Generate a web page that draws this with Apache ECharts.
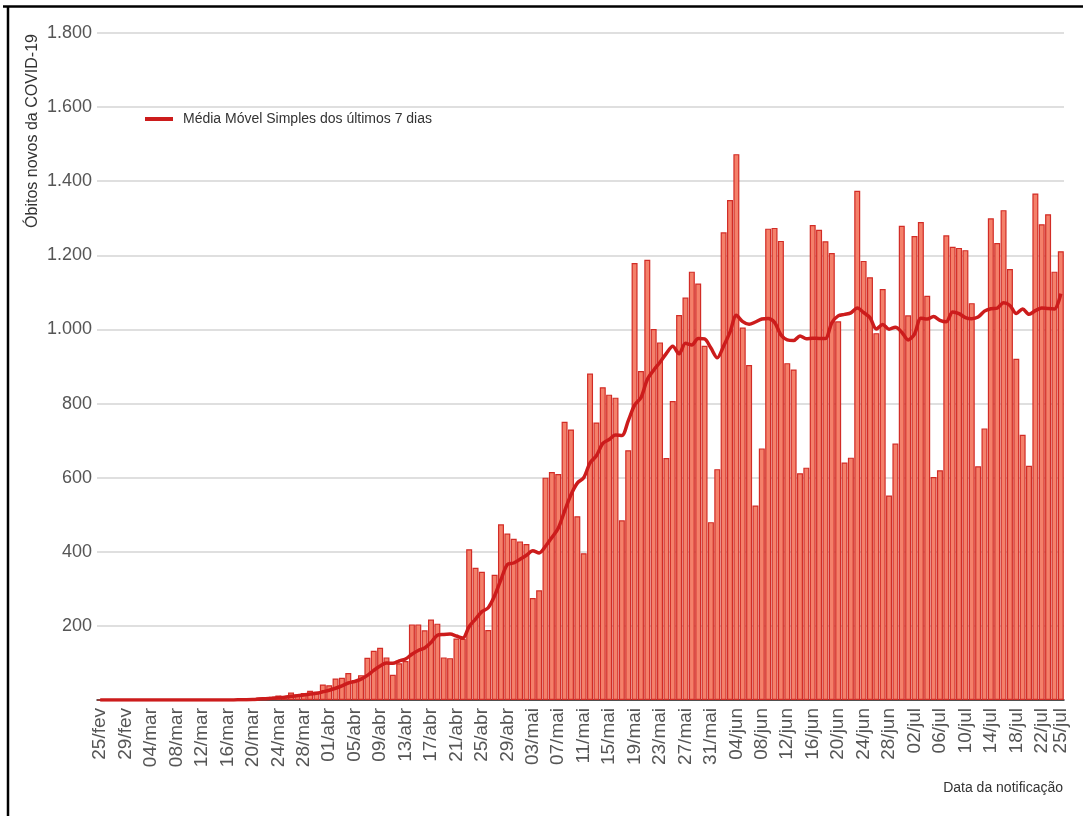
<!DOCTYPE html>
<html>
<head>
<meta charset="utf-8">
<title>Óbitos novos da COVID-19</title>
<script src="https://cdn.jsdelivr.net/npm/echarts@6/dist/echarts.min.js"></script>
<style>
    html, body { margin: 0; padding: 0; background: #fff; }
    #container { width: 1083px; height: 816px; }
</style>
</head>
<body>
<div id="container"></div>
<script>
// month abbreviations and the day span shown for each one
var months = [["fev", 25, 29], ["mar", 1, 31], ["abr", 1, 30], ["mai", 1, 31], ["jun", 1, 30], ["jul", 1, 25]];

// daily new deaths, per month
var obitosFev = [0, 0, 0, 0, 0];
var obitosMar = [0, 0, 0, 0, 0, 0, 0, 0, 0, 0, 0, 0, 0, 0, 0, 0,
    1, 3, 3, 4, 7, 7, 9, 12, 11, 20, 15, 19, 25, 23, 42];
var obitosAbr = [40, 58, 60, 73, 54, 67, 114, 133, 141, 115,
    68, 99, 105, 204, 204, 188, 217, 206, 115, 113,
    166, 165, 407, 357, 346, 189, 338, 474, 449, 435];
var obitosMai = [428, 421, 275, 296, 600, 615, 610, 751, 730, 496,
    396, 881, 749, 844, 824, 816, 485, 674, 1179, 888,
    1188, 1001, 965, 653, 807, 1039, 1086, 1156, 1124, 956, 480];
var obitosJun = [623, 1262, 1349, 1473, 1005, 904, 525, 679, 1272, 1274,
    1239, 909, 892, 612, 627, 1282, 1269, 1238, 1206, 1022,
    641, 654, 1374, 1185, 1141, 990, 1109, 552, 692, 1280];
var obitosJul = [1038, 1252, 1290, 1091, 602, 620, 1254, 1223, 1220, 1214,
    1071, 631, 733, 1300, 1233, 1322, 1163, 921, 716, 632,
    1367, 1284, 1311, 1156, 1211];

// 7-day simple moving average, per month
var mediaFev = [0, 0, 0, 0, 0];
var mediaMar = [0, 0, 0, 0, 0, 0, 0, 0, 0, 0, 0, 0, 0, 0, 0, 0,
    0.1, 0.6, 1.0, 1.6, 2.6, 3.6, 4.9, 6.4, 7.6, 10.0, 11.6, 13.3, 15.9, 17.9, 22.1];
var mediaAbr = [26.3, 31.7, 38.1, 45.9, 50.0, 56.3, 66.6, 79.9, 91.7, 99.6,
    98.9, 105.3, 110.7, 123.6, 133.7, 140.4, 155.0, 174.7, 177.0, 178.1,
    172.7, 167.1, 198.4, 218.4, 238.4, 249.0, 281.1, 325.1, 365.7, 369.7];
var mediaMai = [379.9, 390.6, 402.9, 396.9, 414.9, 438.6, 463.6, 509.7, 553.9, 585.4,
    599.7, 639.9, 659.0, 692.4, 702.9, 715.1, 713.6, 753.3, 795.9, 815.7,
    864.9, 890.1, 911.4, 935.4, 954.4, 934.4, 962.7, 958.1, 975.7, 974.4, 949.7];
var mediaJun = [923.4, 955.3, 992.9, 1038.1, 1021.1, 1013.7, 1020.1, 1028.1, 1029.6, 1018.9,
    985.4, 971.7, 970.0, 982.4, 975.0, 976.4, 975.7, 975.6, 1018.0, 1036.6,
    1040.7, 1044.6, 1057.7, 1045.7, 1031.9, 1001.0, 1013.4, 1000.7, 1006.1, 992.7];
var mediaJul = [971.7, 987.6, 1030.4, 1027.9, 1035.0, 1024.7, 1021.0, 1047.4, 1042.9, 1032.0,
    1029.1, 1033.3, 1049.4, 1056.0, 1057.4, 1072.0, 1064.7, 1043.3, 1055.4, 1041.0,
    1050.6, 1057.9, 1056.3, 1055.3, 1096.7];

var yTicks = [0, 200, 400, 600, 800, 1000, 1200, 1400, 1600, 1800];

var dias = [];
months.forEach(function (m) {
    for (var d = m[1]; d <= m[2]; d++) {
        dias.push((d < 10 ? "0" + d : "" + d) + "/" + m[0]);
    }
});
var obitos = [].concat(obitosFev, obitosMar, obitosAbr, obitosMai, obitosJun, obitosJul);
var media = [].concat(mediaFev, mediaMar, mediaAbr, mediaMai, mediaJun, mediaJul);

var last = dias.length - 1;
function showTick(i) {
    return i % 4 === 0 || i === last;
}
function milhar(v) {
    if (v === 0) return "";
    return String(v).replace(/\B(?=(\d{3})+(?!\d))/g, ".");
}

var font = "'Liberation Sans', Arial, sans-serif";
var chart = echarts.init(document.getElementById("container"), null, { renderer: "canvas" });
chart.setOption({
    backgroundColor: "#fff",
    animation: false,
    grid: { left: 97, right: 19, top: 33, bottom: 116 },
    legend: {
        data: [{ name: "Média Móvel Simples dos últimos 7 dias", icon: "rect" }],
        left: 140,
        top: 107,
        itemWidth: 28,
        itemHeight: 4,
        textStyle: { fontFamily: font, fontSize: 14, color: "#333", padding: [0, 0, 0, 5] }
    },
    xAxis: {
        type: "category",
        data: dias,
        axisLine: { lineStyle: { color: "#222", width: 1.5 } },
        axisTick: { alignWithLabel: true, interval: showTick, length: 5, lineStyle: { color: "#222", width: 1.5 } },
        axisLabel: {
            interval: showTick,
            rotate: 90,
            margin: 8,
            color: "#555",
            fontFamily: font,
            fontSize: 19
        }
    },
    yAxis: {
        type: "value",
        min: yTicks[0],
        max: yTicks[yTicks.length - 1],
        interval: 200,
        axisLine: { show: false },
        axisTick: { show: false },
        axisLabel: { formatter: milhar, color: "#555", fontFamily: font, fontSize: 18, margin: 5 },
        splitLine: { lineStyle: { color: "#d4d4d4", width: 1.5 } }
    },
    series: [
        {
            name: "Óbitos",
            type: "bar",
            data: obitos,
            barCategoryGap: "6%",
            itemStyle: { color: "#f4806a", borderColor: "#d22c26", borderWidth: 1.2 }
        },
        {
            name: "Média Móvel Simples dos últimos 7 dias",
            type: "line",
            data: media,
            smooth: 0.3,
            showSymbol: false,
            z: 5,
            lineStyle: { color: "#cc1c1c", width: 3.5 },
            itemStyle: { color: "#cc1c1c" }
        }
    ],
    graphic: [
        {
            type: "text",
            x: 33, y: 131,
            rotation: Math.PI / 2,
            style: {
                text: "Óbitos novos da COVID-19",
                fontFamily: font, fontSize: 16, fill: "#333",
                textAlign: "center", textVerticalAlign: "middle"
            }
        },
        {
            type: "text",
            x: 1063, y: 788,
            style: {
                text: "Data da notificação",
                fontFamily: font, fontSize: 14, fill: "#333",
                textAlign: "right", textVerticalAlign: "middle"
            }
        },
        // black frame at the top and left
        { type: "line", shape: { x1: 3, y1: 6.5, x2: 1083, y2: 6.5 }, style: { stroke: "#000", lineWidth: 2.5 } },
        { type: "line", shape: { x1: 8, y1: 6.5, x2: 8, y2: 816 }, style: { stroke: "#000", lineWidth: 2.5 } }
    ]
});
</script>
</body>
</html>
